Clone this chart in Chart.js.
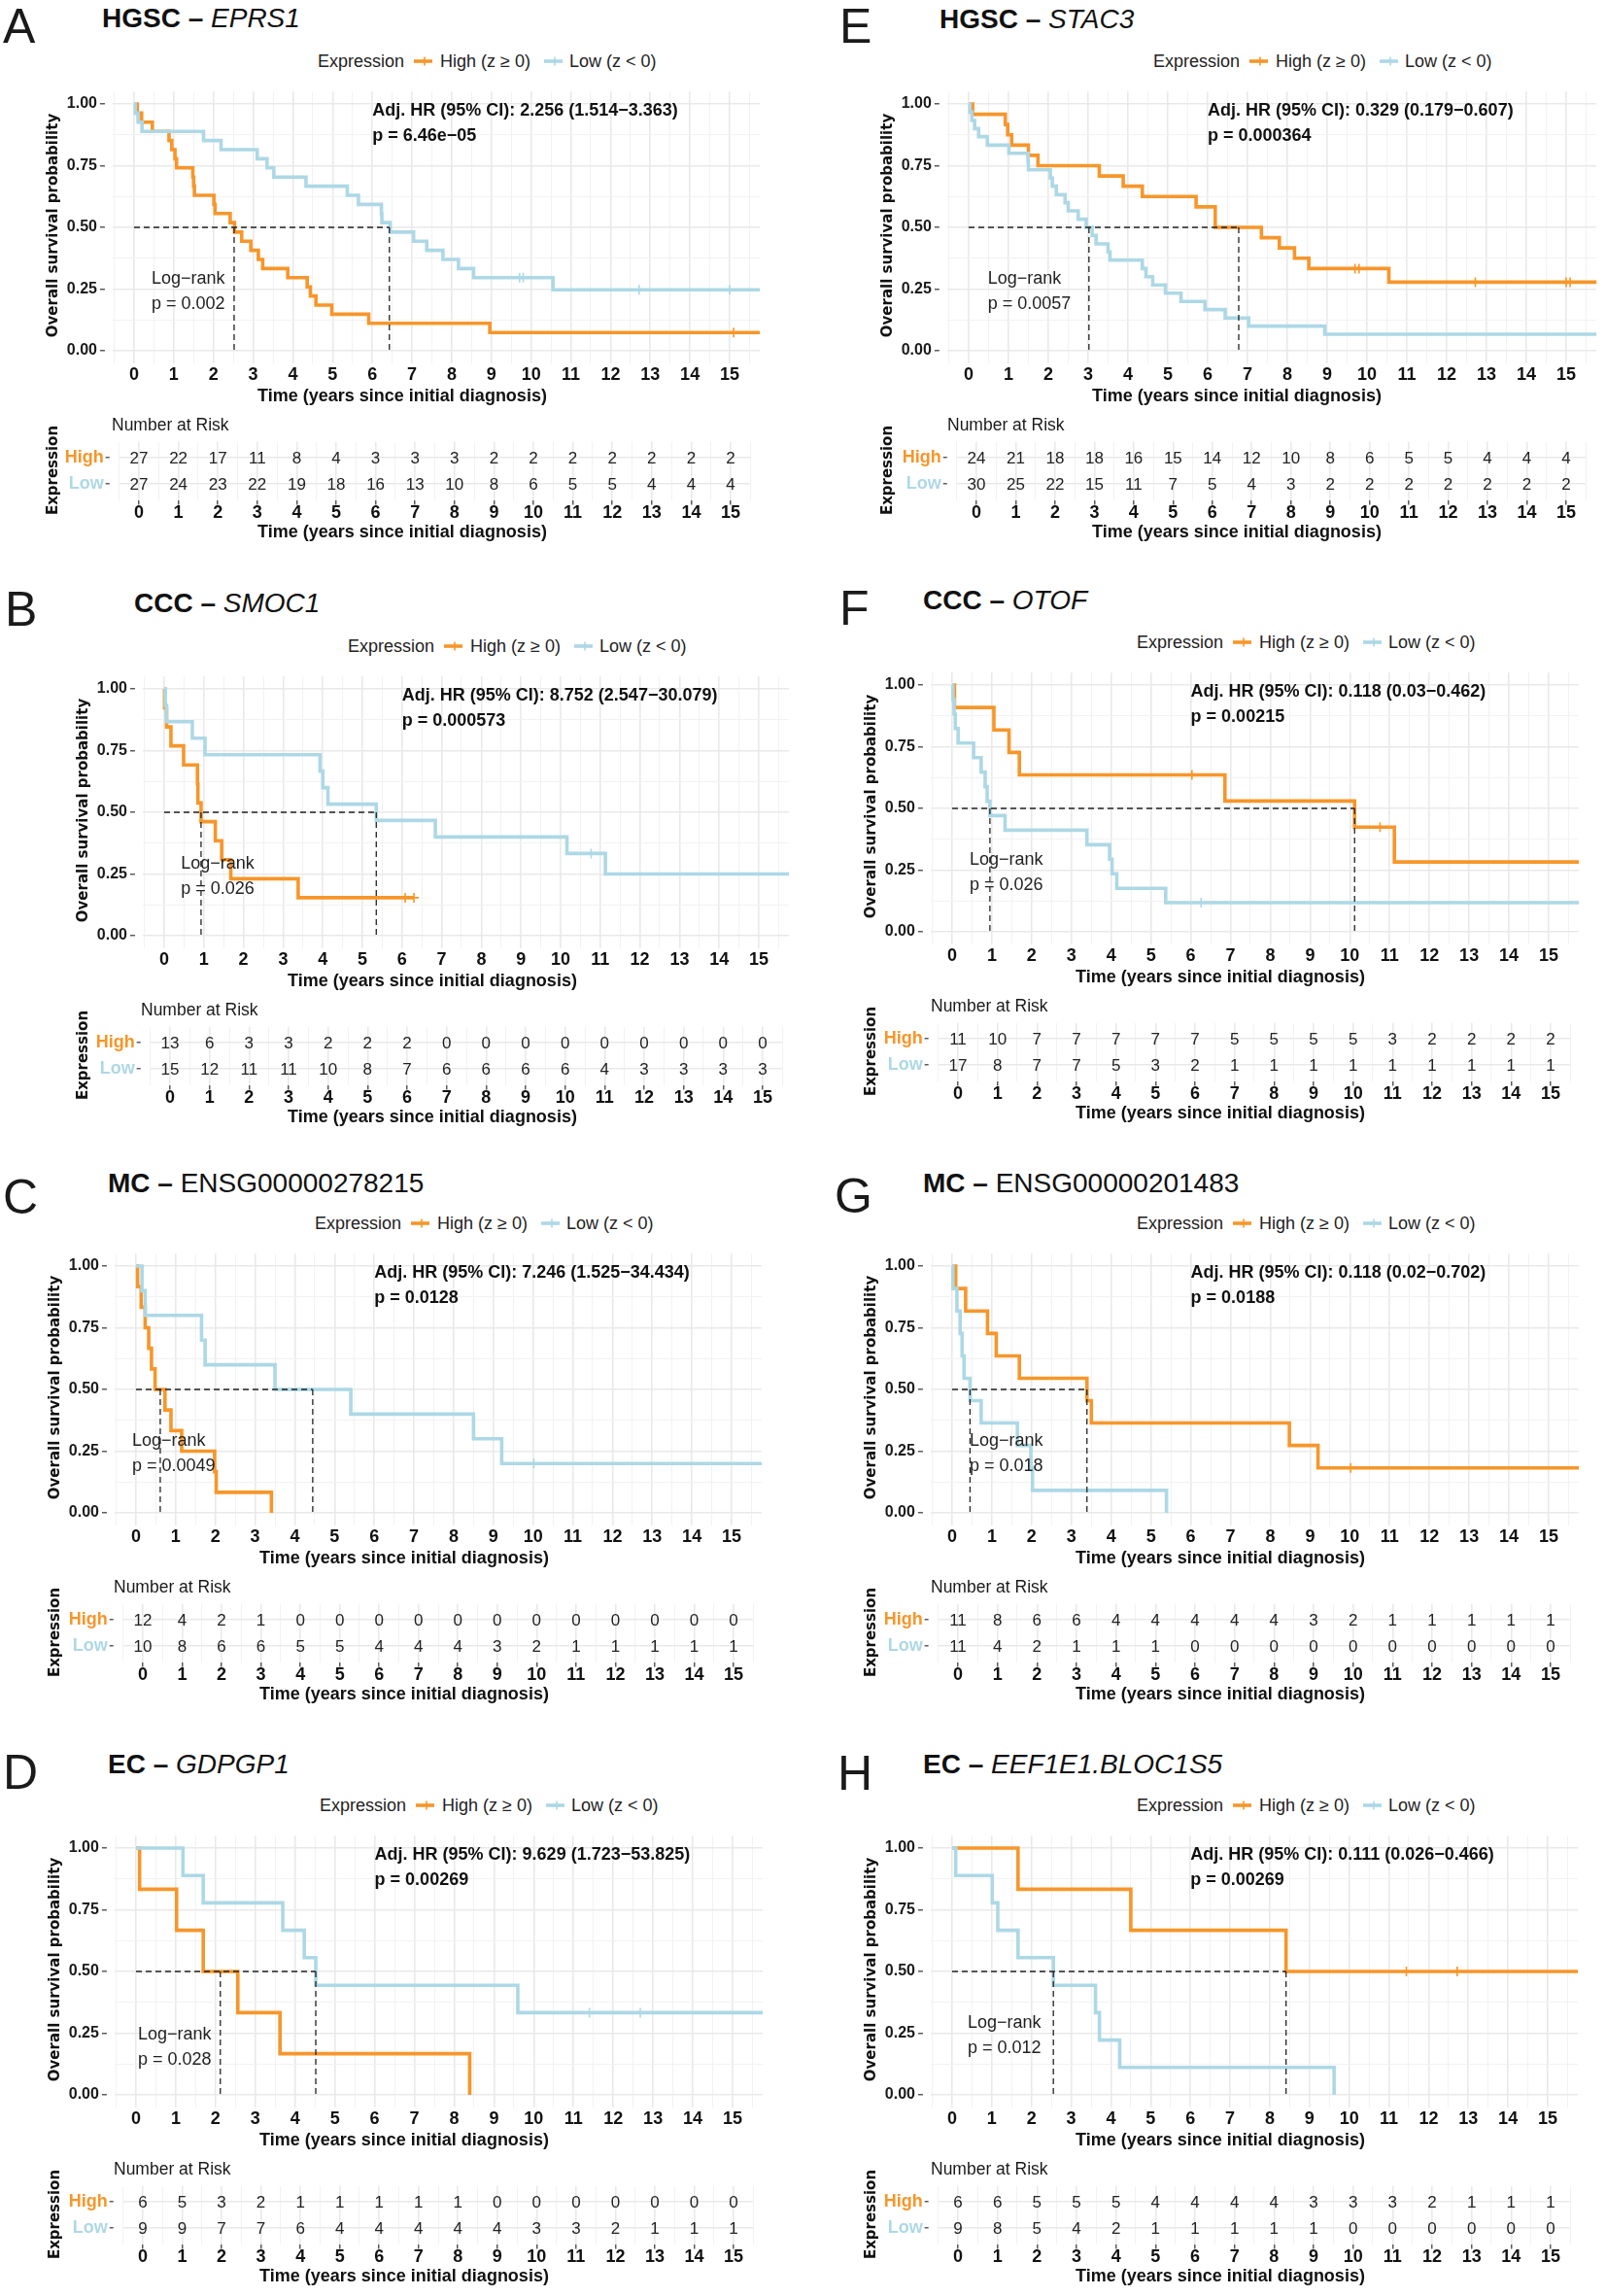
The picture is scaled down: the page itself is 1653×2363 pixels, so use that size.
<!DOCTYPE html>
<html><head><meta charset="utf-8">
<script src="https://cdn.jsdelivr.net/npm/chart.js@4.4.1/dist/chart.umd.min.js"></script>
<style>
html,body{margin:0;padding:0;background:#fff;}
body{position:relative;width:1653px;height:2363px;overflow:hidden;font-family:"Liberation Sans",Arial,Helvetica,sans-serif;color:#1a1a1a;}
.t{position:absolute;white-space:nowrap;line-height:1;transform:translateY(-50%);}
.c{position:absolute;white-space:nowrap;line-height:1;transform:translate(-50%,-50%);}
.rot{position:absolute;white-space:nowrap;line-height:1;transform:translate(-50%,-50%) rotate(-90deg);font-family:"DejaVu Sans",Verdana,sans-serif;font-weight:bold;font-size:15px;color:#111;}
canvas{position:absolute;}
</style></head><body>
<script>
// ---------------- data ----------------
const YEARS = [0,1,2,3,4,5,6,7,8,9,10,11,12,13,14,15];

// A  HGSC - EPRS1
const A_high = [[0,1],[0.08,0.963],[0.19,0.926],[0.46,0.889],[0.88,0.852],[0.95,0.815],[1.03,0.778],[1.07,0.741],[1.48,0.704],[1.5,0.667],[1.52,0.630],[2.01,0.593],[2.04,0.556],[2.42,0.519],[2.53,0.481],[2.71,0.444],[2.94,0.407],[3.13,0.370],[3.24,0.333],[3.87,0.296],[4.36,0.259],[4.44,0.222],[4.58,0.185],[4.98,0.148],[5.91,0.111],[8.96,0.074],[16,0.074]];
const A_low = [[0,1],[0.03,0.963],[0.1,0.926],[0.2,0.889],[1.75,0.852],[2.19,0.815],[3.1,0.778],[3.35,0.741],[3.52,0.704],[4.33,0.667],[5.37,0.630],[5.65,0.593],[6.23,0.556],[6.24,0.519],[6.45,0.481],[7.04,0.444],[7.37,0.407],[7.78,0.370],[8.17,0.333],[8.55,0.296],[10.55,0.247],[16,0.247]];
const A_highCens = [15.1];
const A_lowCens = [9.71, 9.8, 12.72, 15.0];
const A_medians = [2.52, 6.43];
const A_riskHigh = [27,22,17,11,8,4,3,3,3,2,2,2,2,2,2,2];
const A_riskLow  = [27,24,23,22,19,18,16,13,10,8,6,5,5,4,4,4];

// E  HGSC - STAC3
const E_high = [[0,1],[0.1,0.958],[0.92,0.917],[0.98,0.875],[1.08,0.833],[1.5,0.792],[1.74,0.75],[3.28,0.708],[3.88,0.667],[4.36,0.625],[5.71,0.583],[6.19,0.5],[7.35,0.458],[7.8,0.417],[8.18,0.375],[8.54,0.333],[10.55,0.278],[16,0.278]];
const E_low = [[0,1],[0.03,0.967],[0.08,0.933],[0.15,0.9],[0.25,0.867],[0.47,0.833],[1.01,0.8],[1.49,0.767],[1.5,0.733],[2.05,0.7],[2.1,0.667],[2.2,0.633],[2.42,0.6],[2.5,0.567],[2.75,0.533],[2.95,0.5],[3.1,0.467],[3.2,0.433],[3.5,0.4],[3.55,0.367],[4.36,0.333],[4.45,0.3],[4.62,0.267],[4.94,0.233],[5.33,0.2],[5.93,0.167],[6.44,0.133],[7.03,0.1],[8.94,0.067],[16,0.067]];
const E_highCens = [9.7, 9.8, 12.72, 15.0, 15.1];
const E_lowCens = [];
const E_medians = [6.78, 3.02];
const E_riskHigh = [24,21,18,18,16,15,14,12,10,8,6,5,5,4,4,4];
const E_riskLow  = [30,25,22,15,11,7,5,4,3,2,2,2,2,2,2,2];

// B  CCC - SMOC1
const B_high = [[0,1],[0.01,0.923],[0.06,0.846],[0.17,0.769],[0.49,0.692],[0.84,0.615],[0.85,0.538],[0.93,0.462],[1.29,0.385],[1.45,0.308],[1.68,0.231],[3.38,0.154],[6.3,0.154]];
const B_low = [[0,1],[0.03,0.933],[0.06,0.867],[0.71,0.8],[1.03,0.733],[3.93,0.667],[4.0,0.6],[4.13,0.533],[5.35,0.467],[6.84,0.4],[10.16,0.333],[11.13,0.25],[16,0.25]];
const B_highCens = [6.08, 6.3];
const B_lowCens = [10.77];
const B_medians = [0.93, 5.35];
const B_riskHigh = [13,6,3,3,2,2,2,0,0,0,0,0,0,0,0,0];
const B_riskLow  = [15,12,11,11,10,8,7,6,6,6,6,4,3,3,3,3];

// F  CCC - OTOF
const F_high = [[0,1],[0.06,0.909],[1.05,0.818],[1.43,0.727],[1.69,0.636],[6.86,0.530],[10.12,0.424],[11.12,0.283],[16,0.283]];
const F_low = [[0,1],[0.02,0.941],[0.05,0.882],[0.08,0.824],[0.15,0.765],[0.54,0.706],[0.73,0.647],[0.83,0.588],[0.88,0.529],[0.95,0.471],[1.33,0.412],[3.39,0.353],[3.96,0.294],[4.02,0.235],[4.14,0.176],[5.37,0.118],[16,0.118]];
const F_highCens = [6.03, 10.76];
const F_lowCens = [6.26];
const F_medians = [10.12, 0.95];
const F_riskHigh = [11,10,7,7,7,7,7,5,5,5,5,3,2,2,2,2];
const F_riskLow  = [17,8,7,7,5,3,2,1,1,1,1,1,1,1,1,1];

// C  MC - ENSG00000278215
const C_high = [[0,1],[0.04,0.917],[0.13,0.833],[0.23,0.75],[0.32,0.667],[0.39,0.583],[0.48,0.5],[0.73,0.417],[0.88,0.333],[1.15,0.25],[1.98,0.167],[2.02,0.083],[3.41,0]];
const C_low = [[0,1],[0.15,0.9],[0.23,0.8],[1.65,0.7],[1.74,0.6],[3.5,0.5],[5.41,0.4],[8.5,0.3],[9.21,0.2],[16,0.2]];
const C_highCens = [];
const C_lowCens = [10.02];
const C_medians = [0.61, 4.45];
const C_riskHigh = [12,4,2,1,0,0,0,0,0,0,0,0,0,0,0,0];
const C_riskLow  = [10,8,6,6,5,5,4,4,4,3,2,1,1,1,1,1];

// G  MC - ENSG00000201483
const G_high = [[0,1],[0.09,0.909],[0.34,0.818],[0.89,0.727],[1.11,0.636],[1.69,0.545],[3.39,0.455],[3.5,0.364],[8.48,0.273],[9.2,0.182],[16,0.182]];
const G_low = [[0,1],[0.02,0.909],[0.12,0.818],[0.2,0.727],[0.25,0.636],[0.3,0.545],[0.45,0.455],[0.73,0.364],[1.64,0.273],[1.98,0.182],[2.02,0.091],[5.39,0]];
const G_highCens = [10.02];
const G_lowCens = [];
const G_medians = [3.39, 0.45];
const G_riskHigh = [11,8,6,6,4,4,4,4,4,3,2,1,1,1,1,1];
const G_riskLow  = [11,4,2,1,1,1,0,0,0,0,0,0,0,0,0,0];

// D  EC - GDPGP1
const D_high = [[0,1],[0.09,0.833],[1.02,0.667],[1.69,0.5],[2.56,0.333],[3.62,0.167],[8.39,0]];
const D_low = [[0,1],[1.18,0.889],[1.69,0.778],[3.69,0.667],[4.23,0.556],[4.52,0.444],[9.6,0.333],[16,0.333]];
const D_highCens = [];
const D_lowCens = [11.4, 12.68];
const D_medians = [2.12, 4.52];
const D_riskHigh = [6,5,3,2,1,1,1,1,1,0,0,0,0,0,0,0];
const D_riskLow  = [9,9,7,7,6,4,4,4,4,4,3,3,2,1,1,1];

// H  EC - EEF1E1.BLOC1S5
const H_high = [[0,1],[1.66,0.833],[4.5,0.667],[8.41,0.5],[16,0.5]];
const H_low = [[0,1],[0.09,0.889],[1.01,0.778],[1.15,0.667],[1.66,0.556],[2.55,0.444],[3.61,0.333],[3.71,0.222],[4.22,0.111],[9.62,0]];
const H_highCens = [11.44, 12.72];
const H_lowCens = [];
const H_medians = [8.41, 2.55];
const H_riskHigh = [6,6,5,5,5,4,4,4,4,3,3,3,2,1,1,1];
const H_riskLow  = [9,8,5,4,2,1,1,1,1,1,0,0,0,0,0,0];

const PANELS = [
 {tag:'A', cohort:'HGSC', gene:'EPRS1', ital:true, hr:'Adj. HR (95% CI): 2.256 (1.514\u22123.363)', hrP:'p = 6.46e\u221205', lrP:'p = 0.002', high:A_high, low:A_low, highCens:A_highCens, lowCens:A_lowCens, medians:A_medians, riskHigh:A_riskHigh, riskLow:A_riskLow, lrPos:[0.44,0.295,0.193]},
 {tag:'E', cohort:'HGSC', gene:'STAC3', ital:true, hr:'Adj. HR (95% CI): 0.329 (0.179\u22120.607)', hrP:'p = 0.000364', lrP:'p = 0.0057', high:E_high, low:E_low, highCens:E_highCens, lowCens:E_lowCens, medians:E_medians, riskHigh:E_riskHigh, riskLow:E_riskLow, lrPos:[0.48,0.295,0.193]},
 {tag:'B', cohort:'CCC', gene:'SMOC1', ital:true, hr:'Adj. HR (95% CI): 8.752 (2.547\u221230.079)', hrP:'p = 0.000573', lrP:'p = 0.026', high:B_high, low:B_low, highCens:B_highCens, lowCens:B_lowCens, medians:B_medians, riskHigh:B_riskHigh, riskLow:B_riskLow, lrPos:[0.42,0.295,0.193]},
 {tag:'F', cohort:'CCC', gene:'OTOF', ital:true, hr:'Adj. HR (95% CI): 0.118 (0.03\u22120.462)', hrP:'p = 0.00215', lrP:'p = 0.026', high:F_high, low:F_low, highCens:F_highCens, lowCens:F_lowCens, medians:F_medians, riskHigh:F_riskHigh, riskLow:F_riskLow, lrPos:[0.44,0.295,0.193]},
 {tag:'C', cohort:'MC', gene:'ENSG00000278215', ital:false, hr:'Adj. HR (95% CI): 7.246 (1.525\u221234.434)', hrP:'p = 0.0128', lrP:'p = 0.0049', high:C_high, low:C_low, highCens:C_highCens, lowCens:C_lowCens, medians:C_medians, riskHigh:C_riskHigh, riskLow:C_riskLow, lrPos:[-0.1,0.295,0.193]},
 {tag:'G', cohort:'MC', gene:'ENSG00000201483', ital:false, hr:'Adj. HR (95% CI): 0.118 (0.02\u22120.702)', hrP:'p = 0.0188', lrP:'p = 0.018', high:G_high, low:G_low, highCens:G_highCens, lowCens:G_lowCens, medians:G_medians, riskHigh:G_riskHigh, riskLow:G_riskLow, lrPos:[0.44,0.295,0.193]},
 {tag:'D', cohort:'EC', gene:'GDPGP1', ital:true, hr:'Adj. HR (95% CI): 9.629 (1.723\u221253.825)', hrP:'p = 0.00269', lrP:'p = 0.028', high:D_high, low:D_low, highCens:D_highCens, lowCens:D_lowCens, medians:D_medians, riskHigh:D_riskHigh, riskLow:D_riskLow, lrPos:[0.05,0.247,0.147]},
 {tag:'H', cohort:'EC', gene:'EEF1E1.BLOC1S5', ital:true, hr:'Adj. HR (95% CI): 0.111 (0.026\u22120.466)', hrP:'p = 0.00269', lrP:'p = 0.012', high:H_high, low:H_low, highCens:H_highCens, lowCens:H_lowCens, medians:H_medians, riskHigh:H_riskHigh, riskLow:H_riskLow, lrPos:[0.39,0.295,0.193]}
];

// ---------------- layout (page pixels) ----------------
const LAYOUT = {
 A:{letterX:3,  letterY:26.5, titleX:105, titleY:19,   legendX:327,  nrX:115, kx0:138, kx15:751,  y1:107,  rx0:143,  rx15:752},
 E:{letterX:864,letterY:26.5, titleX:967, titleY:19.5, legendX:1187, nrX:975, kx0:997, kx15:1612, y1:107,  rx0:1005, rx15:1612},
 B:{letterX:5,  letterY:627,  titleX:138, titleY:621,  legendX:358,  nrX:145, kx0:169, kx15:781,  y1:709,  rx0:175,  rx15:785},
 F:{letterX:864,letterY:625.5,titleX:950, titleY:618,  legendX:1170, nrX:958, kx0:980, kx15:1594, y1:705,  rx0:986,  rx15:1596},
 C:{letterX:3,  letterY:1232, titleX:111, titleY:1218, legendX:324,  nrX:117, kx0:140, kx15:753,  y1:1303, rx0:147,  rx15:755},
 G:{letterX:859,letterY:1231, titleX:950, titleY:1218, legendX:1170, nrX:958, kx0:980, kx15:1594, y1:1303, rx0:986,  rx15:1596},
 D:{letterX:3,  letterY:1824, titleX:111, titleY:1816, legendX:329,  nrX:117, kx0:140, kx15:754,  y1:1902, rx0:147,  rx15:755},
 H:{letterX:862,letterY:1825, titleX:950, titleY:1816, legendX:1170, nrX:958, kx0:980, kx15:1593, y1:1902, rx0:986,  rx15:1596}
};

const ORANGE = '#F7962A', BLUE = '#ADD8E6';
const SANS = '"Liberation Sans", Arial, Helvetica, sans-serif';
const PPV = 254;                 // px per survival unit
const X_MIN = -0.54, X_MAX = 15.76, Y_MIN = -0.05, Y_MAX = 1.05;
const R_XMIN = -0.5, R_XMAX = 15.5, R_YMIN = 0.4, R_YMAX = 2.6;
const XGRID = []; for (let v = -0.5; v <= 15.5001; v += 0.5) XGRID.push(Math.round(v*2)/2);
const YGRID = []; for (let v = 0; v <= 1.0001; v += 0.125) YGRID.push(Math.round(v*1000)/1000);
const isInt = v => Math.abs(v - Math.round(v)) < 1e-9;
const isQuarter = v => Math.abs(v*4 - Math.round(v*4)) < 1e-9;

function txt(html, x, y, style, cls){
  const d = document.createElement('div');
  d.className = cls || 't'; d.innerHTML = html;
  d.style.left = x + 'px'; d.style.top = y + 'px';
  Object.assign(d.style, style || {});
  document.body.appendChild(d); return d;
}
function mkCanvas(l, t, w, h){
  const c = document.createElement('canvas');
  c.width = w; c.height = h; c.style.left = l + 'px'; c.style.top = t + 'px';
  c.style.width = w + 'px'; c.style.height = h + 'px';
  document.body.appendChild(c); return c;
}
function stepAt(curve, t){ let v = curve[0][1]; for (const [x, y] of curve){ if (x <= t) v = y; else break; } return v; }

const gridMajor = '#E9E9E9', gridMinor = '#F2F2F2';

function drawKM(P, L){
  const ppy = (L.kx15 - L.kx0) / 15;
  const aL = L.kx0 + X_MIN*ppy, aR = L.kx0 + X_MAX*ppy;
  const aT = L.y1 - (Y_MAX - 1)*PPV, aB = L.y1 + (1 - Y_MIN)*PPV;
  const cL = Math.floor(aL - 72), cT = Math.floor(aT - 18), cR = Math.ceil(aR + 8), cB = Math.ceil(aB + 34);
  const YW = aL - cL, PT = aT - cT, PR = cR - aR, XH = cB - aB;
  const cv = mkCanvas(cL, cT, cR - cL, cB - cT);
  const dash = {type:'line', borderColor:'#222', borderWidth:1.3, borderDash:[6,4], pointRadius:0, fill:false, stepped:false, tension:0};
  const ds = [];
  ds.push(Object.assign({data:[{x:0,y:0.5},{x:Math.max(...P.medians),y:0.5}]}, dash));
  P.medians.forEach(m => ds.push(Object.assign({data:[{x:m,y:0.5},{x:m,y:0}]}, dash)));
  const cens = (times, curve, col) => ({type:'scatter', data:times.map(t => ({x:t, y:stepAt(curve, t)})), pointStyle:'cross', pointRadius:5, borderColor:col, backgroundColor:col, pointBorderWidth:1.6, showLine:false});
  ds.push(cens(P.lowCens, P.low, BLUE));
  ds.push(cens(P.highCens, P.high, ORANGE));
  const cur = (curve, col) => ({type:'line', data:curve.map(([x,y]) => ({x, y})), borderColor:col, borderWidth:3.6, stepped:'before', pointRadius:0, fill:false, tension:0, borderCapStyle:'butt', borderJoinStyle:'miter'});
  ds.push(cur(P.low, BLUE));
  ds.push(cur(P.high, ORANGE));
  const chart = new Chart(cv, {
    type:'line', data:{datasets:ds},
    options:{
      responsive:false, animation:false, events:[],
      layout:{padding:{left:0, top:PT, right:PR, bottom:0}},
      plugins:{legend:{display:false}, tooltip:{enabled:false}},
      scales:{
        x:{type:'linear', min:X_MIN, max:X_MAX,
           afterBuildTicks: s => { s.ticks = XGRID.map(v => ({value:v})); },
           afterFit: s => { s.height = XH; },
           ticks:{autoSkip:false, maxRotation:0, minRotation:0, padding:2, color:'#111',
                  font:{family:SANS, size:18, weight:'bold'},
                  callback: v => (isInt(v) && v >= 0) ? String(Math.round(v)) : ''},
           grid:{drawTicks:false, color: c => isInt(c.tick.value) ? gridMajor : gridMinor,
                 lineWidth: c => isInt(c.tick.value) ? 1.6 : 1.0},
           border:{display:false}},
        y:{type:'linear', min:Y_MIN, max:Y_MAX,
           afterBuildTicks: s => { s.ticks = YGRID.map(v => ({value:v})); },
           afterFit: s => { s.width = YW; },
           ticks:{autoSkip:false, padding:3, color:'#1a1a1a', font:{family:SANS, size:16, weight:'bold'},
                  callback: v => isQuarter(v) ? v.toFixed(2) : ''},
           grid:{color: c => isQuarter(c.tick.value) ? gridMajor : gridMinor,
                 lineWidth: c => isQuarter(c.tick.value) ? 1.6 : 1.0,
                 tickLength:13, tickBorderDash:[5,30], tickWidth:1.2,
                 tickColor: c => isQuarter(c.tick.value) ? '#333' : 'rgba(0,0,0,0)'},
           border:{display:false}}
      }
    }
  });
  const xs = chart.scales.x, ys = chart.scales.y;
  const px = v => cL + xs.getPixelForValue(v), py = v => cT + ys.getPixelForValue(v);
  txt(P.hr,  px(6), py(0.975), {fontSize:'18px', fontWeight:'bold', color:'#111'});
  txt(P.hrP, px(6), py(0.875), {fontSize:'18px', fontWeight:'bold', color:'#111'});
  txt('Log\u2212rank', px(P.lrPos[0]), py(P.lrPos[1]), {fontSize:'18px', color:'#222'});
  txt(P.lrP, px(P.lrPos[0]), py(P.lrPos[2]), {fontSize:'18px', color:'#222'});
}

const riskNumbers = {
  id:'riskNumbers',
  afterDatasetsDraw(chart){
    const ctx = chart.ctx, xs = chart.scales.x, ys = chart.scales.y;
    ctx.save();
    ctx.font = '17px ' + SANS; ctx.fillStyle = '#222'; ctx.textAlign = 'center'; ctx.textBaseline = 'middle';
    chart.data.datasets.forEach(ds => ds.data.forEach(d => ctx.fillText(String(d.n), xs.getPixelForValue(d.x), ys.getPixelForValue(d.y) + 1)));
    ctx.restore();
  }
};

function drawRisk(P, L){
  const ppy = (L.rx15 - L.rx0) / 15;
  const aL = L.rx0 + R_XMIN*ppy, aR = L.rx0 + R_XMAX*ppy;
  const aT = L.y1 + 347.5, aB = L.y1 + 407.5;
  const cL = Math.floor(aL - 62), cT = Math.floor(aT - 12), cR = Math.ceil(aR + 8), cB = Math.ceil(aB + 28);
  const YW = aL - cL, PT = aT - cT, PR = cR - aR, XH = cB - aB;
  const cv = mkCanvas(cL, cT, cR - cL, cB - cT);
  const ds = [
    {type:'scatter', data:YEARS.map((yr, i) => ({x:yr, y:2, n:P.riskHigh[i]})), pointRadius:0, showLine:false},
    {type:'scatter', data:YEARS.map((yr, i) => ({x:yr, y:1, n:P.riskLow[i]})), pointRadius:0, showLine:false}
  ];
  new Chart(cv, {
    type:'scatter', data:{datasets:ds}, plugins:[riskNumbers],
    options:{
      responsive:false, animation:false, events:[],
      layout:{padding:{left:0, top:PT, right:PR, bottom:0}},
      plugins:{legend:{display:false}, tooltip:{enabled:false}},
      scales:{
        x:{type:'linear', min:R_XMIN, max:R_XMAX,
           afterBuildTicks: s => { s.ticks = XGRID.map(v => ({value:v})); },
           afterFit: s => { s.height = XH; },
           ticks:{autoSkip:false, maxRotation:0, minRotation:0, padding:0, color:'#111',
                  font:{family:SANS, size:18, weight:'bold', lineHeight:1},
                  callback: v => (isInt(v) && v >= 0) ? String(Math.round(v)) : ''},
           grid:{color: c => isInt(c.tick.value) ? gridMajor : gridMinor,
                 lineWidth: c => isInt(c.tick.value) ? 1.6 : 1.0,
                 tickLength:5, tickWidth:1.2,
                 tickColor: c => (isInt(c.tick.value) && c.tick.value >= 0) ? '#333' : 'rgba(0,0,0,0)'},
           border:{display:false}},
        y:{type:'linear', min:R_YMIN, max:R_YMAX,
           afterBuildTicks: s => { s.ticks = [{value:1},{value:2}]; },
           afterFit: s => { s.width = YW; },
           ticks:{autoSkip:false, padding:2, font:{family:SANS, size:18, weight:'bold'},
                  color: c => c.tick && c.tick.value === 2 ? ORANGE : BLUE,
                  callback: v => v === 2 ? 'High' : 'Low'},
           grid:{color:gridMajor, lineWidth:1.6, tickLength:14, tickBorderDash:[4,30], tickWidth:1.2, tickColor:'#333'},
           border:{display:false}}
      }
    }
  });
}

function keySvg(col){
  return '<svg width="19" height="12" viewBox="0 0 19 12" style="display:block"><line x1="0" y1="6" x2="19" y2="6" stroke="'+col+'" stroke-width="3.6"/><line x1="11" y1="1.5" x2="11" y2="10.5" stroke="'+col+'" stroke-width="1.6"/></svg>';
}

PANELS.forEach(P => {
  const L = LAYOUT[P.tag];
  // panel letter + title
  txt(P.tag, L.letterX, L.letterY, {fontSize:'50px', color:'#1a1a1a'});
  txt('<b>' + P.cohort + ' \u2013</b> ' + (P.ital ? '<i>' + P.gene + '</i>' : P.gene), L.titleX, L.titleY, {fontSize:'28px', color:'#111'});
  // legend
  const lg = txt('', L.legendX, L.y1 - 44, {fontSize:'18px', color:'#222', display:'flex', alignItems:'center'});
  lg.innerHTML = '<span>Expression</span><span style="margin:0 8px 0 10px">' + keySvg(ORANGE) + '</span><span>High (z \u2265 0)</span><span style="margin:0 7px 0 14px">' + keySvg(BLUE) + '</span><span>Low (z &lt; 0)</span>';
  // charts
  drawKM(P, L);
  drawRisk(P, L);
  // axis titles
  txt('Overall survival probability', L.kx0 - 84, L.y1 + 125, null, 'rot');
  txt('Time (years since initial diagnosis)', L.kx0 + 276, L.y1 + 300, {fontSize:'18px', fontWeight:'bold', color:'#111'}, 'c');
  txt('Number at Risk', L.nrX, L.y1 + 331, {fontSize:'17.5px', color:'#1a1a1a'});
  txt('Expression', L.kx0 - 84, L.y1 + 377, null, 'rot');
  txt('Time (years since initial diagnosis)', L.kx0 + 276, L.y1 + 440, {fontSize:'18px', fontWeight:'bold', color:'#111'}, 'c');
});
</script>
</body></html>
